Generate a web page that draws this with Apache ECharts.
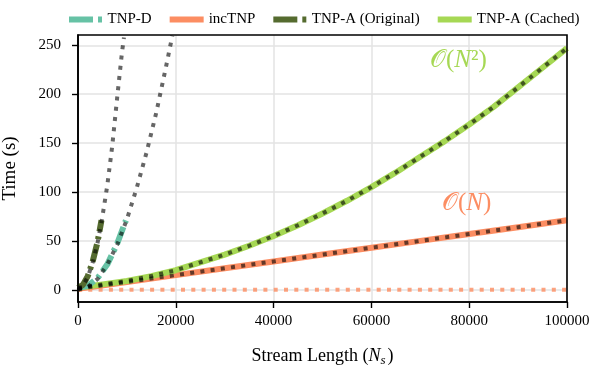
<!DOCTYPE html>
<html>
<head>
<meta charset="utf-8">
<script src="https://cdn.jsdelivr.net/npm/echarts@6/dist/echarts.min.js"></script>
<style>
  html, body { margin: 0; padding: 0; background: #fff; }
  #chart { width: 598px; height: 366px; }
</style>
</head>
<body>
<div id="chart"></div>
<script>
// measured runtimes, [stream length, seconds]
var tnpD = [[0, 2], [2000, 4], [4000, 12], [6000, 26], [8000, 47], [9800, 71]];
var tnpAOrig = [[0, 2], [1000, 5], [2000, 14], [3000, 29], [4000, 49], [4800, 71]];
var incTnp = [[0, 1], [10000, 8], [20000, 15], [30000, 22], [40000, 29], [50000, 36],
  [60000, 43], [70000, 50], [80000, 57], [90000, 64], [100000, 71]];
var tnpACached = [[0, 2], [5000, 5.5], [10000, 9], [15000, 14], [20000, 20], [25000, 28],
  [30000, 36], [35000, 45], [40000, 55], [45000, 66], [50000, 78], [55000, 91],
  [60000, 105], [65000, 120], [70000, 136], [75000, 152], [80000, 169], [85000, 187],
  [90000, 207], [95000, 227], [100000, 247]];
// incTNP per-update time (flat near zero)
var incStep = [[0, 0], [50000, 0], [100000, 0]];
// extrapolated fits (dotted)
var fitD = [[0, 0], [2000, 3], [4000, 11], [6000, 26], [8000, 46], [10000, 72], [12000, 104],
  [14000, 140], [16000, 181], [18000, 228], [19300, 260]];
var fitA = [[0, 0], [1000, 4], [2000, 13], [3000, 28], [4000, 48], [5000, 75], [6000, 107],
  [7000, 147], [8000, 196], [9000, 243], [9400, 258]];

var yTicks = [0, 50, 100, 150, 200, 250];

var serif = '"Liberation Serif", "DejaVu Serif", serif';
var dashDot = [18, 5, 3, 5];
var fitStyle = { color: 'rgba(0,0,0,0.6)', width: 4, type: [4, 6.3], cap: 'butt' };
var solidIcon = 'path://M0,0 H34 V6 H0 Z';
var dashIcon = 'path://M0,0 H24 V6 H0 Z M29,0 H33 V6 H29 Z';

function line(name, data, lineStyle, z) {
  return {
    name: name, type: 'line', data: data, showSymbol: false, symbol: 'none',
    lineStyle: lineStyle, itemStyle: { color: lineStyle.color }, z: z,
    silent: true, animation: false
  };
}

var chart = echarts.init(document.getElementById('chart'));
chart.setOption({
  animation: false,
  grid: { left: 78, right: 31, top: 35, bottom: 64, outerBoundsMode: 'none', containLabel: false },
  legend: {
    data: [
      { name: 'TNP-D', icon: dashIcon },
      { name: 'incTNP', icon: solidIcon },
      { name: 'TNP-A (Original)', icon: dashIcon },
      { name: 'TNP-A (Cached)', icon: solidIcon }
    ],
    top: 7, left: 64, itemWidth: 34, itemHeight: 6, itemGap: 18,
    textStyle: { fontFamily: serif, fontSize: 15, color: '#000' }
  },
  xAxis: {
    type: 'value', min: 0, max: 100000, interval: 20000,
    name: 'Stream Length ({i|N}{s|s})', nameLocation: 'middle', nameGap: 44,
    nameTextStyle: {
      fontFamily: serif, fontSize: 18, color: '#000',
      rich: {
        i: { fontFamily: serif, fontStyle: 'italic', fontSize: 18, color: '#000' },
        s: { fontFamily: serif, fontStyle: 'italic', fontSize: 13, color: '#000', padding: [8, 2, 0, 0] }
      }
    },
    axisLine: { onZero: false, lineStyle: { color: '#000', width: 1.6 } },
    axisTick: { length: 6, lineStyle: { color: '#000', width: 1.4 } },
    axisLabel: { fontFamily: serif, fontSize: 15, color: '#000', margin: 12,
      formatter: function (v) { return String(v); } },
    splitLine: { lineStyle: { color: '#e3e3e3', width: 1.5 } }
  },
  yAxis: {
    type: 'value', min: -12.5, max: 260.5,
    name: 'Time (s)', nameLocation: 'middle', nameGap: 58,
    nameTextStyle: { fontFamily: serif, fontSize: 19, color: '#000' },
    axisLine: { show: true, onZero: false, lineStyle: { color: '#000', width: 1.6 } },
    axisTick: { show: true, length: 6, customValues: yTicks, lineStyle: { color: '#000', width: 1.4 } },
    axisLabel: { fontFamily: serif, fontSize: 15, color: '#000', margin: 17, customValues: yTicks },
    splitLine: { show: true, lineStyle: { color: '#e3e3e3', width: 1.5 } }
  },
  series: [
    line('incStep', incStep, { color: 'rgba(252,141,98,0.8)', width: 4, type: [4, 6.3], cap: 'butt' }, 2),
    line('incTNP', incTnp, { color: '#fc8d62', width: 6 }, 3),
    line('TNP-A (Cached)', tnpACached, { color: '#a6d854', width: 6 }, 3),
    line('TNP-D', tnpD, { color: '#66c2a5', width: 6, type: dashDot }, 3),
    line('TNP-A (Original)', tnpAOrig, { color: '#556b2f', width: 6, type: dashDot }, 3),
    line('fitN', incTnp, fitStyle, 5),
    line('fitN2', tnpACached, fitStyle, 5),
    line('fitD', fitD, fitStyle, 5),
    line('fitA', fitA, fitStyle, 5)
  ],
  graphic: [
    { type: 'rect', shape: { x: 78, y: 35, width: 489, height: 267 }, z: 10, silent: true,
      style: { fill: 'none', stroke: '#000', lineWidth: 1.6 } },
    { type: 'text', left: 430, top: 48, z: 11,
      style: { text: '{o|𝒪}{p|(}{i|N}{p|²)}', fill: '#a6d854',
        rich: {
          o: { fontFamily: serif, fontSize: 25, fill: '#a6d854' },
          p: { fontFamily: serif, fontSize: 25, fill: '#a6d854' },
          i: { fontFamily: serif, fontSize: 25, fontStyle: 'italic', fill: '#a6d854' }
        } } },
    { type: 'text', left: 442, top: 191, z: 11,
      style: { text: '{o|𝒪}{p|(}{i|N}{p|)}', fill: '#fc8d62',
        rich: {
          o: { fontFamily: serif, fontSize: 25, fill: '#fc8d62' },
          p: { fontFamily: serif, fontSize: 25, fill: '#fc8d62' },
          i: { fontFamily: serif, fontSize: 25, fontStyle: 'italic', fill: '#fc8d62' }
        } } }
  ]
});
</script>
</body>
</html>
